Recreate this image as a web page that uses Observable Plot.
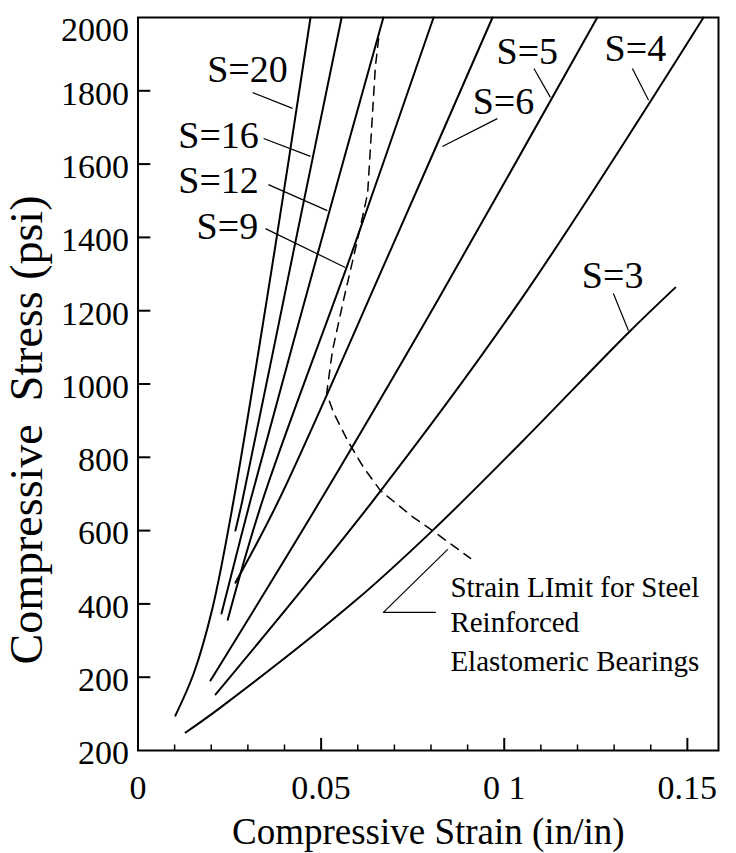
<!DOCTYPE html>
<html><head><meta charset="utf-8">
<script src="https://cdn.jsdelivr.net/npm/d3@7"></script>
<script src="https://cdn.jsdelivr.net/npm/@observablehq/plot@0.6"></script>
<style>body{margin:0;background:#fff} svg text{font-family:'Liberation Serif','Times New Roman',serif !important;font-variant:normal !important;}</style>
</head><body><div id="chart"></div>
<script>
// ---- data ----
const seriesNames = ["S=20","S=16","S=12","S=9","S=6","S=5","S=4","S=3"];
const strainS20 = [0.0102, 0.0152, 0.0203, 0.0261, 0.0373, 0.0471];
const stressS20 = [95, 210, 387, 682, 1364, 2000];
const strainS16 = [0.0266, 0.0285, 0.0425, 0.0556];
const stressS16 = [600, 682, 1364, 2000];
const strainS12 = [0.0228, 0.0307, 0.0493, 0.0670];
const stressS12 = [374, 682, 1364, 2000];
const strainS9 = [0.0245, 0.0340, 0.0586, 0.0807];
const stressS9 = [357, 682, 1364, 2000];
const strainS6 = [0.0266, 0.0384, 0.0689, 0.0968];
const stressS6 = [458, 682, 1364, 2000];
const strainS5 = [0.0198, 0.0498, 0.0818, 0.1254];
const stressS5 = [191, 682, 1228, 2000];
const strainS4 = [0.0212, 0.0642, 0.1044, 0.1544];
const stressS4 = [153, 682, 1228, 2000];
const strainS3 = [0.0130, 0.0225, 0.0594, 0.0804, 0.1052, 0.1339, 0.1467];
const stressS3 = [49, 117, 409, 600, 846, 1140, 1263];

// strain limit (dashed)
const limitStrain = [0.0657, 0.0648, 0.0627, 0.0599, 0.0561, 0.0531, 0.0515, 0.0534, 0.0572, 0.0616, 0.0662, 0.0752, 0.0804, 0.0908];
const limitStress = [1943, 1864, 1520, 1392, 1228, 1091, 974, 922, 846, 772, 709, 636, 600, 524];

// curve labels and their leader lines
const labelText   = ["S=20","S=16","S=12","S=9","S=6","S=5","S=4","S=3"];
const labelStrain = [0.0299, 0.0220, 0.0220, 0.0244, 0.0998, 0.1063, 0.1358, 0.1296];
const labelStress = [1858, 1678, 1555, 1430, 1771, 1907, 1915, 1296];
const leaderStrain1 = [0.0313, 0.0343, 0.0356, 0.0348, 0.0981, 0.1081, 0.1350, 0.1298];
const leaderStress1 = [1795, 1670, 1544, 1424, 1724, 1861, 1861, 1247];
const leaderStrain2 = [0.0422, 0.0471, 0.0517, 0.0566, 0.0831, 0.1126, 0.1394, 0.1339];
const leaderStress2 = [1752, 1621, 1473, 1318, 1648, 1782, 1774, 1146];

// annotation for the dashed curve
const noteLines = ["Strain LImit for Steel", "Reinforced", "Elastomeric Bearings"];
const noteStrain = 0.0853;
const noteStress = [445, 349, 243];
const notePointerStrain = [0.0845, 0.0670, 0.0812];
const notePointerStress = [548, 377, 377];

// axes
const xTicks = [0, 0.05, 0.1, 0.15];
const xTickLabels = ["0", "0.05", "0 1", "0.15"];
const xMinorTicks = [0.01,0.02,0.03,0.04,0.06,0.07,0.08,0.09,0.11,0.12,0.13,0.14];
const yTicks = [0,200,400,600,800,1000,1200,1400,1600,1800,2000];
const yTickLabels = ["200","200","400","600","800","1000","1200","1400","1600","1800","2000"];
const xTitle = "Compressive Strain (in/in)";
const yTitle = "Compressive  Stress (psi)";

// ---- build tables ----
const strains = [strainS20, strainS16, strainS12, strainS9, strainS6, strainS5, strainS4, strainS3];
const stresses = [stressS20, stressS16, stressS12, stressS9, stressS6, stressS5, stressS4, stressS3];
const curves = seriesNames.flatMap((s, k) => strains[k].map((x, i) => ({s, strain: x, stress: stresses[k][i]})));
const limit = limitStrain.map((x, i) => ({strain: x, stress: limitStress[i]}));
const labels = labelText.map((t, i) => ({t, x: labelStrain[i], y: labelStress[i]}));
const leaders = labelText.map((t, i) => ({x1: leaderStrain1[i], y1: leaderStress1[i], x2: leaderStrain2[i], y2: leaderStress2[i]}));
const notes = noteLines.map((t, i) => ({t, x: noteStrain, y: noteStress[i]}));
const notePointer = notePointerStrain.map((x, i) => ({x, y: notePointerStress[i]}));
const xLab = new Map(xTicks.map((v, i) => [v, xTickLabels[i]]));
const yLab = new Map(yTicks.map((v, i) => [v, yTickLabels[i]]));
const yTop = yTicks[yTicks.length - 1];

const xMax = 0.1585;
const serif = "'Liberation Serif','Times New Roman',serif";

const plot = Plot.plot({
  width: 736, height: 853,
  marginLeft: 137.5, marginRight: 18, marginTop: 17, marginBottom: 103,
  x: {domain: [0, xMax]},
  y: {domain: [0, 2000]},
  style: {fontFamily: serif, color: "#000", background: "#fff"},
  marks: [
    Plot.axisY(yTicks.slice(0, -1), {tickSize: 0, tickPadding: 9, dy: 3, fontSize: 34, label: null, tickFormat: d => yLab.get(d)}),
    Plot.text([yTop], {y: d => d, text: d => yLab.get(d), frameAnchor: "left", textAnchor: "end", dx: -9, dy: 13, fontSize: 34}),
    Plot.axisX(xTicks, {tickSize: 0, tickPadding: 24, fontSize: 34, label: null, tickFormat: d => xLab.get(d)}),
    Plot.ruleY(yTicks.slice(1, -1), {x1: 0, x2: 0.0035, strokeWidth: 2}),
    Plot.ruleX(xTicks.slice(1), {y1: 0, y2: 33, strokeWidth: 2}),
    Plot.ruleX(xMinorTicks, {y1: 0, y2: 15, strokeWidth: 1.5}),
    Plot.frame({strokeWidth: 2}),
    Plot.line(curves, {x: "strain", y: "stress", z: "s", curve: "catmull-rom", strokeWidth: 2}),
    Plot.line(limit, {x: "strain", y: "stress", strokeWidth: 1.5, strokeDasharray: "9,7"}),
    Plot.link(leaders, {x1: "x1", y1: "y1", x2: "x2", y2: "y2", strokeWidth: 1.2}),
    Plot.line(notePointer, {x: "x", y: "y", strokeWidth: 1.2}),
    Plot.text(labels, {x: "x", y: "y", text: "t", fontSize: 38}),
    Plot.text(notes, {x: "x", y: "y", text: "t", textAnchor: "start", fontSize: 29}),
    Plot.text([xTitle], {frameAnchor: "bottom", dy: 82, lineAnchor: "middle", textAnchor: "middle", fontSize: 37}),
    Plot.text([yTitle], {frameAnchor: "left", rotate: -90, dx: -111, dy: 46, textAnchor: "middle", lineAnchor: "middle", fontSize: 46})
  ]
});
plot.querySelectorAll("text, g").forEach(t => { t.style.whiteSpace = "pre"; t.style.fontFamily = serif; });
document.getElementById("chart").appendChild(plot);
</script>
</body></html>
